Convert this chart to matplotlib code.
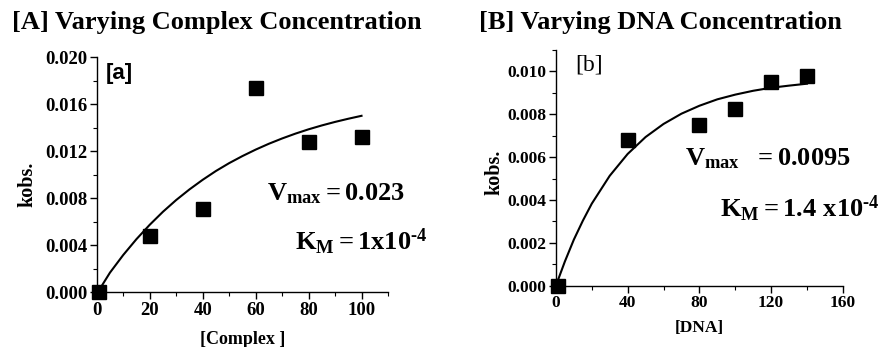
import numpy as np
import matplotlib.pyplot as plt
from matplotlib.ticker import MultipleLocator, FormatStrFormatter

plt.rcParams['font.family'] = 'Liberation Serif'
plt.rcParams['font.weight'] = 'bold'
plt.rcParams['mathtext.fontset'] = 'custom'
plt.rcParams['mathtext.rm'] = 'Liberation Serif:bold'
plt.rcParams['mathtext.it'] = 'Liberation Serif:bold'
plt.rcParams['mathtext.bf'] = 'Liberation Serif:bold'

# Panel A: varying complex concentration
complex_conc = [1, 20, 40, 60, 80, 100]
kobs_a = [0.0000, 0.00475, 0.00708, 0.01737, 0.0128, 0.01319]
fit_x_a = [1, 5, 10, 15, 20, 25, 30, 35, 40, 45, 50, 55, 60, 65, 70, 75, 80, 85, 90, 95, 100]
fit_y_a = [0.0002, 0.00165, 0.00315, 0.00450, 0.00572, 0.00683, 0.00783, 0.00873, 0.00955,
           0.01030, 0.01097, 0.01157, 0.01212, 0.01262, 0.01307, 0.01348, 0.01385, 0.01418,
           0.01448, 0.01475, 0.01500]

# Panel B: varying DNA concentration
dna_conc = [1, 40, 80, 100, 120, 140]
kobs_b = [0.0000, 0.00679, 0.00748, 0.00826, 0.00953, 0.00977]
fit_x_b = [0, 5, 10, 15, 20, 30, 40, 50, 60, 70, 80, 90, 100, 110, 120, 130, 140]
fit_y_b = [0.0, 0.00113, 0.00215, 0.00303, 0.00383, 0.00513, 0.00615, 0.00694, 0.00755,
           0.00803, 0.00840, 0.00870, 0.00892, 0.00910, 0.00924, 0.00934, 0.00943]

fig = plt.figure(figsize=(8.81, 3.47), dpi=100)
ax1 = fig.add_axes([0.1098, 0.1585, 0.3306, 0.677])
ax2 = fig.add_axes([0.631, 0.1767, 0.3257, 0.679])

def style(ax, fs):
    for s in ['top', 'right']:
        ax.spines[s].set_visible(False)
    for s in ['left', 'bottom']:
        ax.spines[s].set_linewidth(1.0)
    ax.tick_params(which='major', direction='out', length=5, width=1.0, pad=2, labelsize=fs)
    ax.tick_params(which='minor', direction='out', length=3, width=0.8)

# panel A
ax1.plot(fit_x_a, fit_y_a, color='black', lw=1.5)
ax1.plot(complex_conc, kobs_a, 's', color='black', ms=9.5, clip_on=False)
ax1.set_xlim(0, 110)
ax1.set_ylim(0, 0.020)
ax1.xaxis.set_major_locator(MultipleLocator(20))
ax1.xaxis.set_minor_locator(MultipleLocator(10))
ax1.yaxis.set_major_locator(MultipleLocator(0.004))
ax1.yaxis.set_minor_locator(MultipleLocator(0.002))
ax1.yaxis.set_major_formatter(FormatStrFormatter('%.3f'))
style(ax1, 13.5)
ax1.set_ylabel('kobs.', fontsize=14.5, fontweight='bold')
ax1.yaxis.set_label_coords(-0.205, 0.46)
ax1.set_xlabel('[Complex ]', fontsize=13, fontweight='bold', labelpad=9)
ax1.text(0.032, 0.975, '[a]', transform=ax1.transAxes, family='Liberation Sans',
         fontsize=16, fontweight='bold', va='top', ha='left')
ax1.text(0.585, 0.39, r'$\mathrm{V_{max}=0.023}$', transform=ax1.transAxes,
         fontsize=19, va='baseline', ha='left')
ax1.text(0.681, 0.179, r'$\mathrm{K_M=1x10^{\text{-4}}}$', transform=ax1.transAxes,
         fontsize=19, va='baseline', ha='left')
fig.text(0.014, 0.935, '[A] Varying Complex Concentration', fontsize=19,
         fontweight='bold', va='center', ha='left')

# panel B
ax2.plot(fit_x_b, fit_y_b, color='black', lw=1.5)
ax2.plot(dna_conc, kobs_b, 's', color='black', ms=9.5, clip_on=False)
ax2.set_xlim(0, 160)
ax2.set_ylim(0, 0.011)
ax2.xaxis.set_major_locator(MultipleLocator(40))
ax2.xaxis.set_minor_locator(MultipleLocator(20))
ax2.yaxis.set_major_locator(MultipleLocator(0.002))
ax2.yaxis.set_minor_locator(MultipleLocator(0.001))
ax2.yaxis.set_major_formatter(FormatStrFormatter('%.3f'))
style(ax2, 12.5)
ax2.set_ylabel('kobs.', fontsize=14.5, fontweight='bold')
ax2.yaxis.set_label_coords(-0.178, 0.48)
ax2.set_xlabel('[DNA]', fontsize=12.5, fontweight='bold', labelpad=6)
ax2.text(0.066, 0.936, '[b]', transform=ax2.transAxes, fontsize=17,
         fontweight='normal', va='center', ha='left')
ax2.text(0.449, 0.512, r'$\mathrm{V_{max}\ \ =0.0095}$', transform=ax2.transAxes,
         fontsize=19, va='baseline', ha='left')
ax2.text(0.571, 0.291, r'$\mathrm{K_M=1.4\ x10^{\text{-4}}}$', transform=ax2.transAxes,
         fontsize=19, va='baseline', ha='left', clip_on=False)
fig.text(0.544, 0.935, '[B] Varying DNA Concentration', fontsize=19,
         fontweight='bold', va='center', ha='left')

fig.savefig('out.png', dpi=100)
